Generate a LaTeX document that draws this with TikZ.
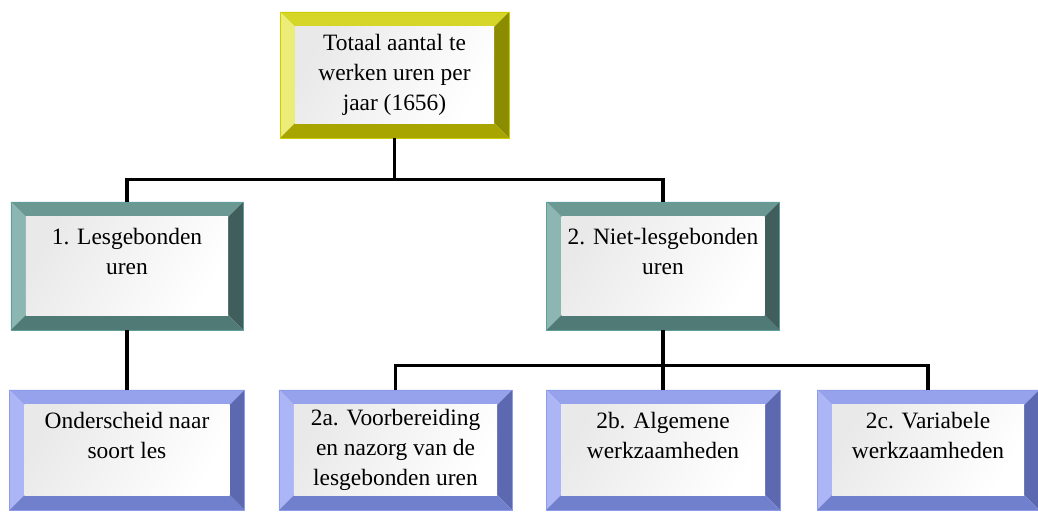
\documentclass[tikz,border=0pt]{standalone}
\usepackage{fontspec}
\setmainfont{Liberation Serif}
\definecolor{ylwedge}{RGB}{204,204,0}
\definecolor{ylwtop}{RGB}{214,214,40}
\definecolor{ylwleft}{RGB}{236,236,120}
\definecolor{ylwright}{RGB}{140,140,0}
\definecolor{ylwbot}{RGB}{168,164,0}
\definecolor{tealedge}{RGB}{95,158,154}
\definecolor{tealtop}{RGB}{108,152,148}
\definecolor{tealleft}{RGB}{140,182,178}
\definecolor{tealright}{RGB}{64,94,92}
\definecolor{tealbot}{RGB}{80,122,118}
\definecolor{blueedge}{RGB}{140,156,232}
\definecolor{bluetop}{RGB}{150,162,236}
\definecolor{blueleft}{RGB}{172,182,246}
\definecolor{blueright}{RGB}{92,104,176}
\definecolor{bluebot}{RGB}{112,128,204}
\newcommand{\bvw}{0.45cm}

\tikzset{
  bevel/.style n args={5}{
    draw=#5, line width=0.8pt,
    path picture={
      \path (path picture bounding box.north west) coordinate (bvnw)
            (path picture bounding box.north east) coordinate (bvne)
            (path picture bounding box.south west) coordinate (bvsw)
            (path picture bounding box.south east) coordinate (bvse);
      % faces of the frame
      \fill[#1] (bvnw) -- (bvne) -- ([shift={(-\bvw,-\bvw)}]bvne) -- ([shift={(\bvw,-\bvw)}]bvnw) -- cycle;
      \fill[#2] (bvnw) -- ([shift={(\bvw,-\bvw)}]bvnw) -- ([shift={(\bvw,\bvw)}]bvsw) -- (bvsw) -- cycle;
      \fill[#3] (bvne) -- (bvse) -- ([shift={(-\bvw,\bvw)}]bvse) -- ([shift={(-\bvw,-\bvw)}]bvne) -- cycle;
      \fill[#4] (bvsw) -- (bvse) -- ([shift={(-\bvw,\bvw)}]bvse) -- ([shift={(\bvw,\bvw)}]bvsw) -- cycle;
      % inner face
      \shade[left color=gray!17, right color=white, shading angle=60]
        ([shift={(\bvw,-\bvw)}]bvnw) rectangle ([shift={(-\bvw,\bvw)}]bvse);
    }},
  ylwbox/.style={bevel={ylwtop}{ylwleft}{ylwright}{ylwbot}{ylwedge}},
  tealbox/.style={bevel={tealtop}{tealleft}{tealright}{tealbot}{tealedge}},
  bluebox/.style={bevel={bluetop}{blueleft}{blueright}{bluebot}{blueedge}},
  card/.style={rectangle, inner sep=0pt, align=center,
    font=\fontsize{20}{25.6}\selectfont},
  link/.style={line width=2.6pt, black},
}

\begin{document}
\begin{tikzpicture}[x=0.03cm, y=-0.03cm]
  \useasboundingbox (0,0) rectangle (1038,513);

  % Top
  \node[card, ylwbox, minimum width=6.87cm, minimum height=3.78cm] (top) at (394.5,75)
    {Totaal aantal te\\werken uren per\\jaar (1656)};

  % Second level
  \node[card, tealbox, minimum width=6.96cm, minimum height=3.84cm] (lesg) at (127,266)
    {1. Lesgebonden\\uren\\~};
  \node[card, tealbox, minimum width=6.99cm, minimum height=3.84cm] (nietlesg) at (663,266)
    {2. Niet-lesgebonden\\uren\\~};

  % Third level
  \node[card, bluebox, minimum width=7.05cm, minimum height=3.6cm] (soort) at (127,450)
    {Onderscheid naar\\soort les\\~};
  \node[card, bluebox, minimum width=6.99cm, minimum height=3.6cm] (voorb) at (395.5,450)
    {2a. Voorbereiding\\en nazorg van de\\lesgebonden uren};
  \node[card, bluebox, minimum width=7.02cm, minimum height=3.6cm] (algem) at (663,450)
    {2b. Algemene\\werkzaamheden\\~};
  \node[card, bluebox, minimum width=6.66cm, minimum height=3.6cm] (variab) at (928,450)
    {2c. Variabele\\werkzaamheden\\~};

  % Connectors
  \draw[link] (top.south) -- ++(0,41) coordinate (busa) -| (lesg.north);
  \draw[link] (busa) -| (nietlesg.north);
  \draw[link] (lesg.south) -- (soort.north);
  \draw[link] (nietlesg.south) -- ++(0,35) coordinate (busb) -| (voorb.north);
  \draw[link] (busb) -- (algem.north);
  \draw[link] (busb) -| (variab.north);
\end{tikzpicture}
\end{document}
